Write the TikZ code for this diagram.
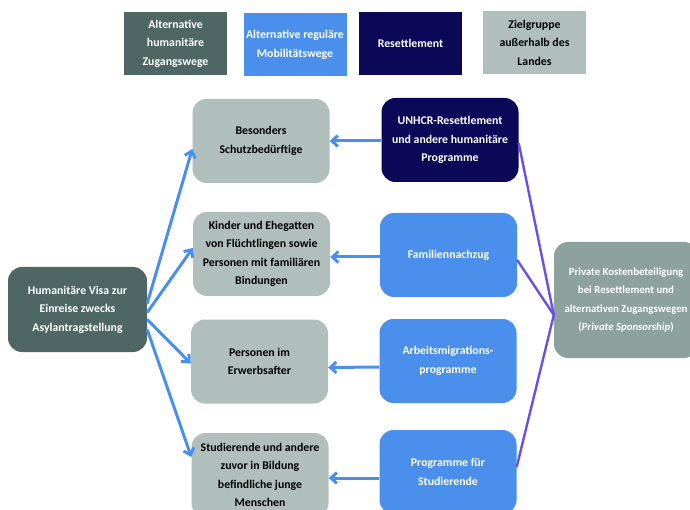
\documentclass[tikz,border=0pt]{standalone}
\usepackage{fontspec}
\setmainfont{Carlito}
\usetikzlibrary{arrows.meta}

\definecolor{slate}{HTML}{4E6664}
\definecolor{regblue}{HTML}{4A8FEC}
\definecolor{navy}{HTML}{0A0857}
\definecolor{target}{HTML}{B0BFBC}
\definecolor{sponsor}{HTML}{8DA29E}
\definecolor{linkpurple}{HTML}{6A50E4}

\begin{document}
\begin{tikzpicture}[x=1pt, y=-1pt,
  txt/.style={align=center, inner sep=1pt, font=\bfseries\fontsize{11.8}{18.5}\selectfont},
  key/.style={txt, minimum width=103pt, minimum height=63pt},
  box/.style={txt, rounded corners=14pt, minimum width=137pt, minimum height=84pt},
  arr/.style={-{Straight Barb[length=6pt,width=11pt]}, line width=3pt, regblue},
  link/.style={line width=2.4pt, linkpurple}]
\useasboundingbox (0,0) rectangle (690,510);
\clip (0,0) rectangle (690,510);
% legend
\node[key, fill=slate, text=white] (k1) at (175.5,43.5) {Alternative\\humanitäre\\Zugangswege};
\node[key, fill=regblue, text=white] (k2) at (295,45) {Alternative reguläre\\Mobilitätswege};
\node[key, fill=navy, text=white] (k3) at (410.5,43.5) {Resettlement};
\node[key, fill=target] (k4) at (534.5,42.5) {Zielgruppe\\außerhalb des\\Landes};
% left
\node[box, fill=slate, text=white, minimum width=139pt, minimum height=85pt] (visa) at (77.5,309.5) {Humanitäre Visa zur\\Einreise zwecks\\Asylantragstellung};
% target groups
\node[box, fill=target] (schutz) at (261,141) {Besonders\\Schutzbedürftige};
\node[box, fill=target] (kinder) at (261.5,254) {Kinder und Ehegatten\\von Flüchtlingen sowie\\Personen mit familiären\\Bindungen};
\node[box, fill=target] (erwerb) at (259.5,361.5) {Personen im\\Erwerbsafter};
\node[box, fill=target] (stud) at (260,475) {Studierende und andere\\zuvor in Bildung\\befindliche junge\\Menschen};
% programmes
\node[box, fill=navy, text=white] (unhcr) at (450,140) {UNHCR-Resettlement\\und andere humanitäre\\Programme};
\node[box, fill=regblue, text=white] (familie) at (448.5,255) {Familiennachzug};
\node[box, fill=regblue, text=white] (arbeit) at (448,361) {Arbeitsmigrations-\\programme};
\node[box, fill=regblue, text=white] (studprog) at (448,472) {Programme für\\Studierende};
% right
\node[box, fill=sponsor, text=white, minimum width=144pt, minimum height=116pt,
  font=\bfseries\fontsize{10.8}{18.5}\selectfont] (private) at (626,300) {Private Kostenbeteiligung\\bei Resettlement und\\alternativen Zugangswegen\\(\textit{Private Sponsorship})};
% arrows from visa
\draw[arr] ([yshift=6pt]visa.east) -- ([yshift=-8pt]schutz.west);
\draw[arr] ([yshift=-3pt]visa.east) -- ([yshift=6pt]kinder.west);
\draw[arr] ([yshift=-10pt]visa.east) -- ([yshift=-2pt]erwerb.west);
\draw[arr] ([yshift=-20pt]visa.east) -- ([yshift=18pt]stud.west);
% arrows from programmes
\draw[arr] ([yshift=-1pt]unhcr.west) -- (schutz.east);
\draw[arr] ([yshift=-2pt]familie.west) -- ([yshift=-3pt]kinder.east);
\draw[arr] ([yshift=-6pt]arbeit.west) -- ([yshift=-6pt]erwerb.east);
\draw[arr] ([yshift=-6pt]studprog.west) -- ([yshift=-3pt]stud.east);
% sponsorship links
\draw[link] ([yshift=-3pt]unhcr.east) -- ([yshift=-15pt]private.west);
\draw[link] ([yshift=-5pt]familie.east) -- ([yshift=-15pt]private.west);
\draw[link] ([yshift=5pt]studprog.east) -- ([yshift=-15pt]private.west);
\end{tikzpicture}
\end{document}
